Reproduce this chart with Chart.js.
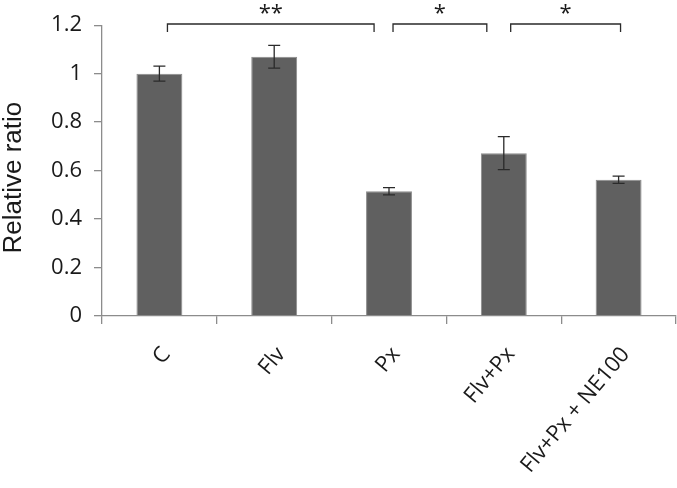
<!DOCTYPE html>
<html>
<head>
<meta charset="utf-8">
<script src="https://cdn.jsdelivr.net/npm/chart.js@4"></script>
<style>
  html, body { margin: 0; padding: 0; background: #fff; }
  #wrap { width: 677px; height: 488px; position: relative; }
</style>
</head>
<body>
<div id="wrap"><canvas id="c"></canvas></div>
<script>
// ---- data ----
const categories = ['C', 'Flv', 'Px', 'Flv+Px', 'Flv+Px + NE100'];
const ratios = [1.0, 1.07, 0.515, 0.672, 0.562];
const errors = [0.031, 0.047, 0.015, 0.068, 0.015];
const yTicks = [0, 0.2, 0.4, 0.6, 0.8, 1, 1.2];
const yTitle = 'Relative ratio';
// significance brackets: start/end in category units, label
const bracketFrom = [0.07, 2.035, 3.06];
const bracketTo = [1.87, 2.852, 4.017];
const bracketLabels = ['**', '*', '*'];

const errorBarPlugin = {
  id: 'errorBars',
  afterDatasetsDraw(chart) {
    const ctx = chart.ctx;
    const meta = chart.getDatasetMeta(0);
    const ys = chart.scales.y;
    ctx.save();
    ctx.strokeStyle = '#2a2a2a';
    ctx.lineWidth = 1.3;
    meta.data.forEach((bar, i) => {
      const v = ratios[i], e = errors[i];
      const x = bar.x;
      const yt = ys.getPixelForValue(v + e);
      const yb = ys.getPixelForValue(v - e);
      const cap = 6;
      ctx.beginPath();
      ctx.moveTo(x, yt); ctx.lineTo(x, yb);
      ctx.moveTo(x - cap, yt); ctx.lineTo(x + cap, yt);
      ctx.moveTo(x - cap, yb); ctx.lineTo(x + cap, yb);
      ctx.stroke();
    });
    ctx.restore();
  }
};

const bracketPlugin = {
  id: 'brackets',
  afterDraw(chart) {
    const ctx = chart.ctx;
    const xs = chart.scales.x, ys = chart.scales.y;
    const yTop = ys.getPixelForValue(1.205);
    const yDrop = ys.getPixelForValue(1.172);
    ctx.save();
    ctx.strokeStyle = '#2a2a2a';
    ctx.lineWidth = 1.3;
    ctx.fillStyle = '#1a1a1a';
    ctx.font = '22px "Open Sans"';
    ctx.textAlign = 'center';
    ctx.textBaseline = 'alphabetic';
    for (let i = 0; i < bracketFrom.length; i++) {
      const x1 = xs.getPixelForDecimal((bracketFrom[i] + 0.5) / categories.length);
      const x2 = xs.getPixelForDecimal((bracketTo[i] + 0.5) / categories.length);
      ctx.beginPath();
      ctx.moveTo(x1, yDrop); ctx.lineTo(x1, yTop); ctx.lineTo(x2, yTop); ctx.lineTo(x2, yDrop);
      ctx.stroke();
      ctx.fillText(bracketLabels[i], (x1 + x2) / 2, yTop - 4);
    }
    // y axis title
    const ca = chart.chartArea;
    ctx.translate(20.5, (ca.top + ca.bottom) / 2 + 7);
    ctx.rotate(-Math.PI / 2);
    ctx.font = '26px "Liberation Sans"';
    ctx.textBaseline = 'alphabetic';
    ctx.fillText(yTitle, 0, 0);
    ctx.restore();
  }
};

new Chart(document.getElementById('c'), {
  type: 'bar',
  data: {
    labels: categories,
    datasets: [{
      data: ratios,
      backgroundColor: '#606060',
      borderColor: '#8c8c8c',
      borderWidth: 1,
      categoryPercentage: 1.0,
      barPercentage: 0.4
    }]
  },
  options: {
    responsive: true,
    maintainAspectRatio: false,
    animation: false,
    devicePixelRatio: 1,
    layout: { padding: { top: 22, right: 1, left: 0, bottom: 0 } },
    plugins: { legend: { display: false }, tooltip: { enabled: false } },
    scales: {
      x: {
        offset: true,
        afterFit(s) { s.height = 172; },
        grid: { display: true, drawOnChartArea: false, drawTicks: true, tickLength: 8, color: '#8c8c8c', lineWidth: 1.3, offset: true },
        border: { display: true, color: '#8c8c8c', width: 1.3 },
        ticks: {
          minRotation: 50, maxRotation: 50, autoSkip: false,
          color: '#1a1a1a', padding: 18, labelOffset: 7,
          font: { family: '"Open Sans"', size: 22 }
        }
      },
      y: {
        min: 0, max: 1.2,
        afterFit(s) { s.width = 102; },
        afterBuildTicks(s) { s.ticks = yTicks.map(v => ({ value: v })); },
        grid: { display: true, drawOnChartArea: false, drawTicks: true, tickLength: 8, color: '#8c8c8c', lineWidth: 1.3 },
        border: { display: true, color: '#8c8c8c', width: 1.3 },
        ticks: {
          color: '#1a1a1a', padding: 12,
          font: { family: '"Open Sans"', size: 22 },
          callback: v => String(Math.round(v * 10) / 10)
        },
        title: { display: false, text: yTitle }
      }
    }
  },
  plugins: [errorBarPlugin, bracketPlugin]
});
</script>
</body>
</html>
